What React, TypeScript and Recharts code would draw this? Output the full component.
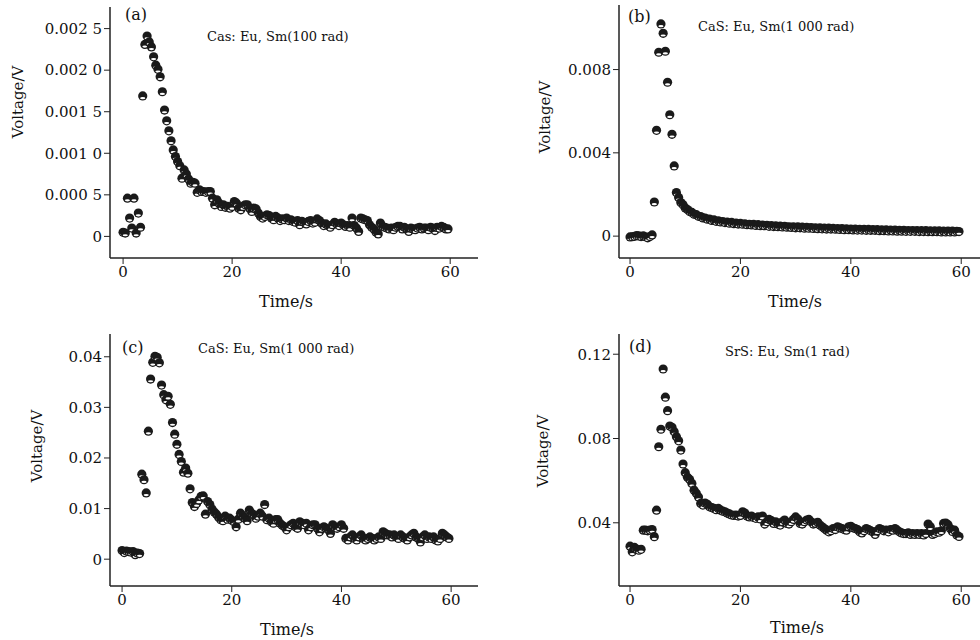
import { ScatterChart, Scatter, XAxis, YAxis } from "recharts";

// sample times, s
const times = [
  0, 0.4, 0.8, 1.2, 1.6, 2, 2.4, 2.8, 3.2, 3.6,
  4, 4.4, 4.8, 5.2, 5.6, 6, 6.4, 6.8, 7.2, 7.6,
  8, 8.4, 8.8, 9.2, 9.6, 10, 10.4, 10.8, 11.2, 11.6,
  12, 12.4, 12.8, 13.2, 13.6, 14, 14.4, 14.8, 15.2, 15.6,
  16, 16.4, 16.8, 17.2, 17.6, 18, 18.4, 18.8, 19.2, 19.6,
  20, 20.4, 20.8, 21.2, 21.6, 22, 22.4, 22.8, 23.2, 23.6,
  24, 24.4, 24.8, 25.2, 25.6, 26, 26.4, 26.8, 27.2, 27.6,
  28, 28.4, 28.8, 29.2, 29.6, 30, 30.4, 30.8, 31.2, 31.6,
  32, 32.4, 32.8, 33.2, 33.6, 34, 34.4, 34.8, 35.2, 35.6,
  36, 36.4, 36.8, 37.2, 37.6, 38, 38.4, 38.8, 39.2, 39.6,
  40, 40.4, 40.8, 41.2, 41.6, 42, 42.4, 42.8, 43.2, 43.6,
  44, 44.4, 44.8, 45.2, 45.6, 46, 46.4, 46.8, 47.2, 47.6,
  48, 48.4, 48.8, 49.2, 49.6, 50, 50.4, 50.8, 51.2, 51.6,
  52, 52.4, 52.8, 53.2, 53.6, 54, 54.4, 54.8, 55.2, 55.6,
  56, 56.4, 56.8, 57.2, 57.6, 58, 58.4, 58.8, 59.2, 59.6,
];

// (a) CaS: Eu, Sm (100 rad)
const voltsA = [
  0.00005, 0.00004, 0.00046, 0.00022, 0.0001, 0.00046, 0.00004, 0.00028, 0.00011, 0.00169,
  0.00231, 0.00241, 0.00234, 0.00228, 0.00216, 0.00206, 0.00201, 0.00192, 0.00174, 0.00152,
  0.00139, 0.00127, 0.00115, 0.00104, 0.00096, 0.0009, 0.00085, 0.0007, 0.0008, 0.00075,
  0.00069, 0.00064, 0.00065, 0.00064, 0.00053, 0.00056, 0.00054, 0.00054, 0.00053, 0.00054,
  0.00054, 0.00046, 0.00038, 0.00044, 0.0004, 0.00036, 0.00038, 0.00035, 0.00036, 0.00034,
  0.00036, 0.00042, 0.0004, 0.00034, 0.00032, 0.00036, 0.00038, 0.00038, 0.00034, 0.0003,
  0.00034, 0.00033, 0.00028, 0.00024, 0.00022, 0.00024, 0.00026, 0.00025, 0.00022, 0.0002,
  0.00024, 0.00022, 0.00019, 0.00021, 0.0002, 0.00022, 0.00019, 0.0002, 0.00018, 0.00017,
  0.00019, 0.00014, 0.00018, 0.00017, 0.00015, 0.00018, 0.00019, 0.00016, 0.00017, 0.00021,
  0.00019, 0.00016, 0.00013, 0.00015, 0.00013, 0.00011, 0.00014, 0.00017, 0.00015, 0.00013,
  0.00016, 0.00014, 0.00012, 0.00013, 0.00011, 0.00022, 0.00013, 0.0001, 0.00006, 0.00022,
  0.00021, 0.0002, 0.00019, 0.00014, 0.00011, 0.00009, 0.00005, 0.00003, 0.00016, 0.00012,
  0.00011, 0.0001, 0.00009, 0.0001, 0.00008, 0.00011, 0.00012, 0.00012, 0.00009, 0.00011,
  0.00009, 0.00006, 0.0001, 0.00009, 0.00008, 0.0001, 0.00011, 0.00009, 0.0001, 0.0001,
  0.00008, 0.00011, 0.0001, 0.00007, 0.00011, 0.0001, 0.00012, 0.00011, 0.00009, 0.00009,
];

// (b) CaS: Eu, Sm (1 000 rad)
const voltsB = [
  -0.00004, -0.00003, -0.00001, 0.00002, 0.00001, -0.00002, 0.00001, -0.00003, -0.00008, -0.00002,
  0.00006, 0.00164, 0.00508, 0.00883, 0.01019, 0.00974, 0.00888, 0.00739, 0.00583, 0.00489,
  0.00337, 0.00209, 0.00186, 0.00161, 0.00151, 0.00135, 0.00128, 0.00118, 0.00114, 0.00105,
  0.00103, 0.00095, 0.00094, 0.00087, 0.00087, 0.00081, 0.00082, 0.00075, 0.00078, 0.00071,
  0.00074, 0.00068, 0.0007, 0.00065, 0.00068, 0.00062, 0.00066, 0.0006, 0.00063, 0.00058,
  0.00061, 0.00057, 0.00059, 0.00055, 0.00057, 0.00054, 0.00056, 0.00051, 0.00055, 0.0005,
  0.00053, 0.0005, 0.00052, 0.00047, 0.00051, 0.00046, 0.00049, 0.00045, 0.00048, 0.00044,
  0.00047, 0.00043, 0.00045, 0.00042, 0.00045, 0.0004, 0.00044, 0.0004, 0.00043, 0.00038,
  0.00042, 0.00038, 0.00041, 0.00037, 0.0004, 0.00036, 0.0004, 0.00035, 0.00039, 0.00034,
  0.00038, 0.00034, 0.00037, 0.00033, 0.00036, 0.00032, 0.00036, 0.00031, 0.00035, 0.00031,
  0.00034, 0.0003, 0.00034, 0.00029, 0.00033, 0.00029, 0.00032, 0.00028, 0.00032, 0.00028,
  0.00031, 0.00028, 0.00031, 0.00026, 0.0003, 0.00026, 0.0003, 0.00025, 0.00029, 0.00025,
  0.00029, 0.00024, 0.00028, 0.00024, 0.00028, 0.00023, 0.00027, 0.00023, 0.00027, 0.00023,
  0.00026, 0.00022, 0.00026, 0.00022, 0.00026, 0.00021, 0.00025, 0.00021, 0.00025, 0.00021,
  0.00025, 0.0002, 0.00024, 0.0002, 0.00024, 0.0002, 0.00024, 0.0002, 0.00023, 0.00022,
];

// (c) CaS: Eu, Sm (1 000 rad)
const voltsC = [
  0.0017, 0.0013, 0.0016, 0.0015, 0.0014, 0.0015, 0.0009, 0.0012, 0.0011, 0.0168,
  0.0157, 0.0131, 0.0253, 0.0356, 0.0389, 0.0401, 0.0399, 0.0388, 0.0344, 0.0325,
  0.0315, 0.0322, 0.0306, 0.027, 0.0247, 0.0227, 0.0207, 0.0193, 0.0172, 0.018,
  0.017, 0.0139, 0.0112, 0.0104, 0.011, 0.0117, 0.0124, 0.0125, 0.0089, 0.0114,
  0.0108, 0.0099, 0.0093, 0.0089, 0.0083, 0.0078, 0.0076, 0.0085, 0.0079, 0.0081,
  0.0077, 0.0074, 0.0064, 0.0079, 0.0091, 0.0086, 0.0081, 0.0076, 0.0097, 0.0091,
  0.0088, 0.0081, 0.0085, 0.0091, 0.0085, 0.0108, 0.0078, 0.0081, 0.0074, 0.0071,
  0.0078, 0.0078, 0.0071, 0.0067, 0.0064, 0.0058, 0.0064, 0.0068, 0.0071, 0.0064,
  0.0061, 0.0074, 0.0071, 0.0068, 0.0071, 0.0058, 0.0064, 0.0068, 0.0068, 0.0061,
  0.0054, 0.0061, 0.0064, 0.0061, 0.0058, 0.0051, 0.0068, 0.0064, 0.0061, 0.0064,
  0.0068, 0.0061, 0.0041, 0.0038, 0.0044, 0.0048, 0.0041, 0.0038, 0.0044, 0.0048,
  0.0041, 0.0038, 0.0041, 0.0044, 0.0041, 0.0038, 0.0041, 0.0044, 0.0041, 0.0054,
  0.0051, 0.0048, 0.0048, 0.0044, 0.0048, 0.0044, 0.0041, 0.0048, 0.0044, 0.0041,
  0.0038, 0.0044, 0.0048, 0.0051, 0.0044, 0.0041, 0.0034, 0.0044, 0.0048, 0.0041,
  0.0044, 0.0041, 0.0044, 0.0038, 0.0036, 0.0041, 0.0051, 0.0048, 0.0044, 0.0041,
];

// (d) SrS: Eu, Sm (1 rad)
const voltsD = [
  0.0289, 0.0262, 0.0283, 0.0274, 0.027, 0.0274, 0.0365, 0.0365, 0.0362, 0.0365,
  0.0368, 0.0334, 0.046, 0.0761, 0.0844, 0.113, 0.0996, 0.0932, 0.0859, 0.0853,
  0.0832, 0.0808, 0.0789, 0.0745, 0.0679, 0.0638, 0.0616, 0.0606, 0.0587, 0.0555,
  0.054, 0.0522, 0.0492, 0.0484, 0.0494, 0.0488, 0.0476, 0.0472, 0.0468, 0.0462,
  0.0468, 0.046, 0.0455, 0.0452, 0.0446, 0.0442, 0.0437, 0.0435, 0.0437, 0.0432,
  0.0435, 0.0452, 0.0446, 0.0432, 0.0428, 0.0432, 0.0425, 0.0421, 0.0428, 0.0418,
  0.0432, 0.0394, 0.0405, 0.0416, 0.041, 0.0397, 0.0405, 0.0394, 0.0389, 0.0405,
  0.0413, 0.0397, 0.0394, 0.0405, 0.0416, 0.0428, 0.0418, 0.0397, 0.0394, 0.0405,
  0.0413, 0.0416, 0.0405, 0.0394, 0.0397, 0.0402, 0.0389, 0.0381, 0.0373, 0.0365,
  0.0357, 0.0362, 0.0373, 0.0368, 0.0381, 0.0376, 0.0373, 0.0368, 0.0365, 0.0381,
  0.0383, 0.0376, 0.0373, 0.0368, 0.0357, 0.0352, 0.0362, 0.0373, 0.0368, 0.0362,
  0.0357, 0.0345, 0.0362, 0.0373, 0.0368, 0.0362, 0.0365, 0.0357, 0.0368, 0.0365,
  0.0373, 0.0365, 0.0357, 0.0352, 0.0349, 0.0349, 0.0352, 0.0345, 0.0349, 0.0345,
  0.0349, 0.0345, 0.0349, 0.0342, 0.0349, 0.0394, 0.0381, 0.0345, 0.0349, 0.0357,
  0.0355, 0.0362, 0.0397, 0.0399, 0.0391, 0.0373, 0.0359, 0.0365, 0.0342, 0.0335,
];

const timeTicks = [0, 20, 40, 60];

const ticksA = [0, 0.0005, 0.001, 0.0015, 0.002, 0.0025];
const tickLabelsA = ["0", "0.000 5", "0.001 0", "0.001 5", "0.002 0", "0.002 5"];
const ticksB = [0, 0.004, 0.008];
const tickLabelsB = ["0", "0.004", "0.008"];
const ticksC = [0, 0.01, 0.02, 0.03, 0.04];
const tickLabelsC = ["0", "0.01", "0.02", "0.03", "0.04"];
const ticksD = [0.04, 0.08, 0.12];
const tickLabelsD = ["0.04", "0.08", "0.12"];

const FONT = "'DejaVu Serif', 'Liberation Serif', serif";
const INK = "#1a1a1a";

const toPoints = (ys: number[]) => times.map((t, i) => ({ t, v: ys[i] }));

// filled dot with the little white highlight the original markers have
const Marker = (props: any) => {
  const { cx, cy } = props;
  if (cx == null || cy == null) return null;
  return (
    <g>
      <circle cx={cx} cy={cy} r={4.6} fill={INK} />
      <ellipse cx={cx} cy={cy + 2.2} rx={2.6} ry={1.1} fill="#fff" />
    </g>
  );
};

function Panel({ left, top, width, height, margin, yWidth, xDomain, yDomain, ticks, tickLabels, data }: any) {
  const fmt = (v: number) => {
    const i = ticks.findIndex((t: number) => Math.abs(t - v) < 1e-9);
    return i >= 0 ? tickLabels[i] : String(v);
  };
  const axisLine = { stroke: "#222", strokeWidth: 1.5 };
  const tick = { fill: "#111", fontSize: 15, fontFamily: FONT };
  return (
    <div style={{ position: "absolute", left, top }}>
      <ScatterChart width={width} height={height} margin={margin}>
        <XAxis
          type="number"
          dataKey="t"
          domain={xDomain}
          ticks={timeTicks}
          allowDataOverflow
          axisLine={axisLine}
          tickLine={{ stroke: "#222" }}
          tick={tick}
          height={40}
        />
        <YAxis
          type="number"
          dataKey="v"
          domain={yDomain}
          ticks={ticks}
          tickFormatter={fmt}
          allowDataOverflow
          axisLine={axisLine}
          tickLine={{ stroke: "#222" }}
          tick={tick}
          width={yWidth}
        />
        <Scatter data={data} shape={Marker} isAnimationActive={false} />
      </ScatterChart>
    </div>
  );
}

const txt = (s: any) => ({ position: "absolute" as const, whiteSpace: "nowrap" as const, lineHeight: 1, color: "#111", fontFamily: FONT, ...s });

function Titles({ tag, name, tagX, tagY, nameX, nameY, yLabX, yLabY, xLabX, xLabY }: any) {
  return (
    <>
      <div style={txt({ left: tagX, top: tagY - 8, fontSize: 16 })}>{tag}</div>
      <div style={txt({ left: nameX, top: nameY - 7, fontSize: 13 })}>{name}</div>
      <div style={txt({ left: yLabX, top: yLabY, fontSize: 15, transform: "translate(-50%, -50%) rotate(-90deg)" })}>Voltage/V</div>
      <div style={txt({ left: xLabX, top: xLabY, fontSize: 16, transform: "translate(-50%, -50%)" })}>Time/s</div>
    </>
  );
}

export default function App() {
  return (
    <div style={{ position: "absolute", left: 0, top: 0, width: 980, height: 640, background: "#fff", overflow: "hidden" }}>
      <Panel
        left={0} top={0} width={490} height={320}
        margin={{ top: 7, right: 12, bottom: 22, left: 0 }} yWidth={110}
        xDomain={[-2.4, 65.1]} yDomain={[-0.00026, 0.00276]}
        ticks={ticksA} tickLabels={tickLabelsA} data={toPoints(voltsA)}
      />
      <Panel
        left={490} top={0} width={490} height={320}
        margin={{ top: 5, right: 0, bottom: 22, left: 0 }} yWidth={129}
        xDomain={[-2, 63.4]} yDomain={[-0.00105, 0.0111]}
        ticks={ticksB} tickLabels={tickLabelsB} data={toPoints(voltsB)}
      />
      <Panel
        left={0} top={320} width={490} height={320}
        margin={{ top: 14, right: 12, bottom: 14, left: 0 }} yWidth={110}
        xDomain={[-2.2, 64.9]} yDomain={[-0.0053, 0.0445]}
        ticks={ticksC} tickLabels={tickLabelsC} data={toPoints(voltsC)}
      />
      <Panel
        left={490} top={320} width={490} height={320}
        margin={{ top: 14, right: 0, bottom: 14, left: 0 }} yWidth={129}
        xDomain={[-2, 63.4]} yDomain={[0.01, 0.1296]}
        ticks={ticksD} tickLabels={tickLabelsD} data={toPoints(voltsD)}
      />
      <Titles tag="(a)" name="Cas: Eu, Sm(100 rad)" tagX={125} tagY={15} nameX={207} nameY={37} yLabX={18} yLabY={102} xLabX={286} xLabY={302} />
      <Titles tag="(b)" name="CaS: Eu, Sm(1 000 rad)" tagX={628} tagY={17} nameX={698} nameY={27} yLabX={545} yLabY={117} xLabX={795} xLabY={302} />
      <Titles tag="(c)" name="CaS: Eu, Sm(1 000 rad)" tagX={122} tagY={348} nameX={198} nameY={349} yLabX={37} yLabY={446} xLabX={287} xLabY={630} />
      <Titles tag="(d)" name="SrS: Eu, Sm(1 rad)" tagX={629} tagY={347} nameX={725} nameY={352} yLabX={543} yLabY={451} xLabX={797} xLabY={628} />
    </div>
  );
}
